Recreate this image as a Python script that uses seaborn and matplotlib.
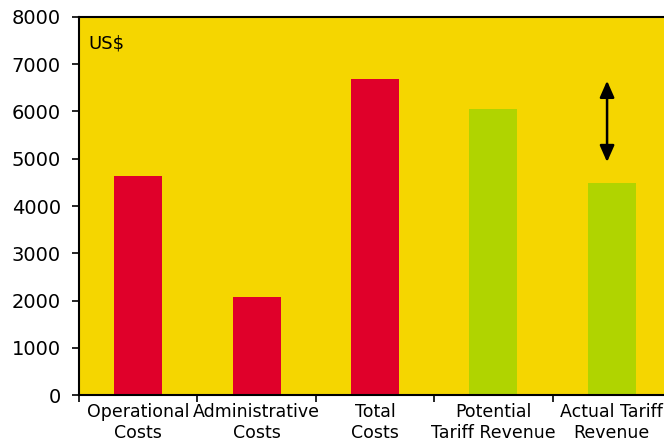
import pandas as pd
import matplotlib
matplotlib.use("Agg")
import matplotlib.pyplot as plt
import seaborn as sns

# chart data
categories = ["Operational\nCosts", "Administrative\nCosts", "Total\nCosts",
              "Potential\nTariff Revenue", "Actual Tariff\nRevenue"]
values = [4630, 2070, 6690, 6050, 4490]
bar_colors = ["#E0002A", "#E0002A", "#E0002A", "#B0D400", "#B0D400"]
yticks = [0, 1000, 2000, 3000, 4000, 5000, 6000, 7000, 8000]

df = pd.DataFrame({"category": categories, "value": values})

sns.set_style("ticks")
plt.rcParams["font.family"] = ["DejaVu Sans"]
plt.rcParams["text.color"] = "black"
plt.rcParams["xtick.color"] = "black"
plt.rcParams["ytick.color"] = "black"

fig = plt.figure(figsize=(6.64, 4.44), dpi=100)
ax = fig.add_axes([79 / 664, 49 / 444, 592 / 664, 378 / 444])
ax.set_facecolor("#F5D600")

sns.barplot(data=df, x="category", y="value", hue="category",
            palette=bar_colors, width=0.405, saturation=1, legend=False,
            linewidth=0, ax=ax)

ax.set_ylim(0, 8000)
ax.set_xlim(-0.5, 4.5)
ax.set_yticks(yticks)
ax.set_yticklabels([str(t) for t in yticks], fontsize=14)
ax.set_xticks(range(len(categories)))
ax.set_xticklabels(categories, fontsize=12.5, linespacing=1.2)
ax.tick_params(axis="x", length=0, pad=6, labelcolor="black")
ax.set_xticks([i - 0.5 for i in range(len(categories) + 1)], minor=True)
ax.tick_params(axis="x", which="minor", length=5, width=1.2, color="black")
ax.tick_params(axis="y", length=5, width=1.2, color="black", pad=8,
               labelcolor="black")
ax.set_xlabel("")
ax.set_ylabel("")

for side in ["left", "bottom", "top"]:
    ax.spines[side].set_visible(True)
    ax.spines[side].set_linewidth(1.5)
    ax.spines[side].set_color("black")
ax.spines["right"].set_visible(False)

ax.text(0.016, 0.955, "US$", transform=ax.transAxes, fontsize=13,
        va="top", ha="left", color="black")

# gap between potential and actual revenue
ax.annotate("", xy=(3.96, 4930), xytext=(3.96, 6650),
            arrowprops=dict(arrowstyle="<|-|>,head_length=0.5,head_width=0.22",
                            color="black", lw=1.8,
                            mutation_scale=20, shrinkA=0, shrinkB=0))

fig.savefig("out.png", dpi=100, facecolor="white")
